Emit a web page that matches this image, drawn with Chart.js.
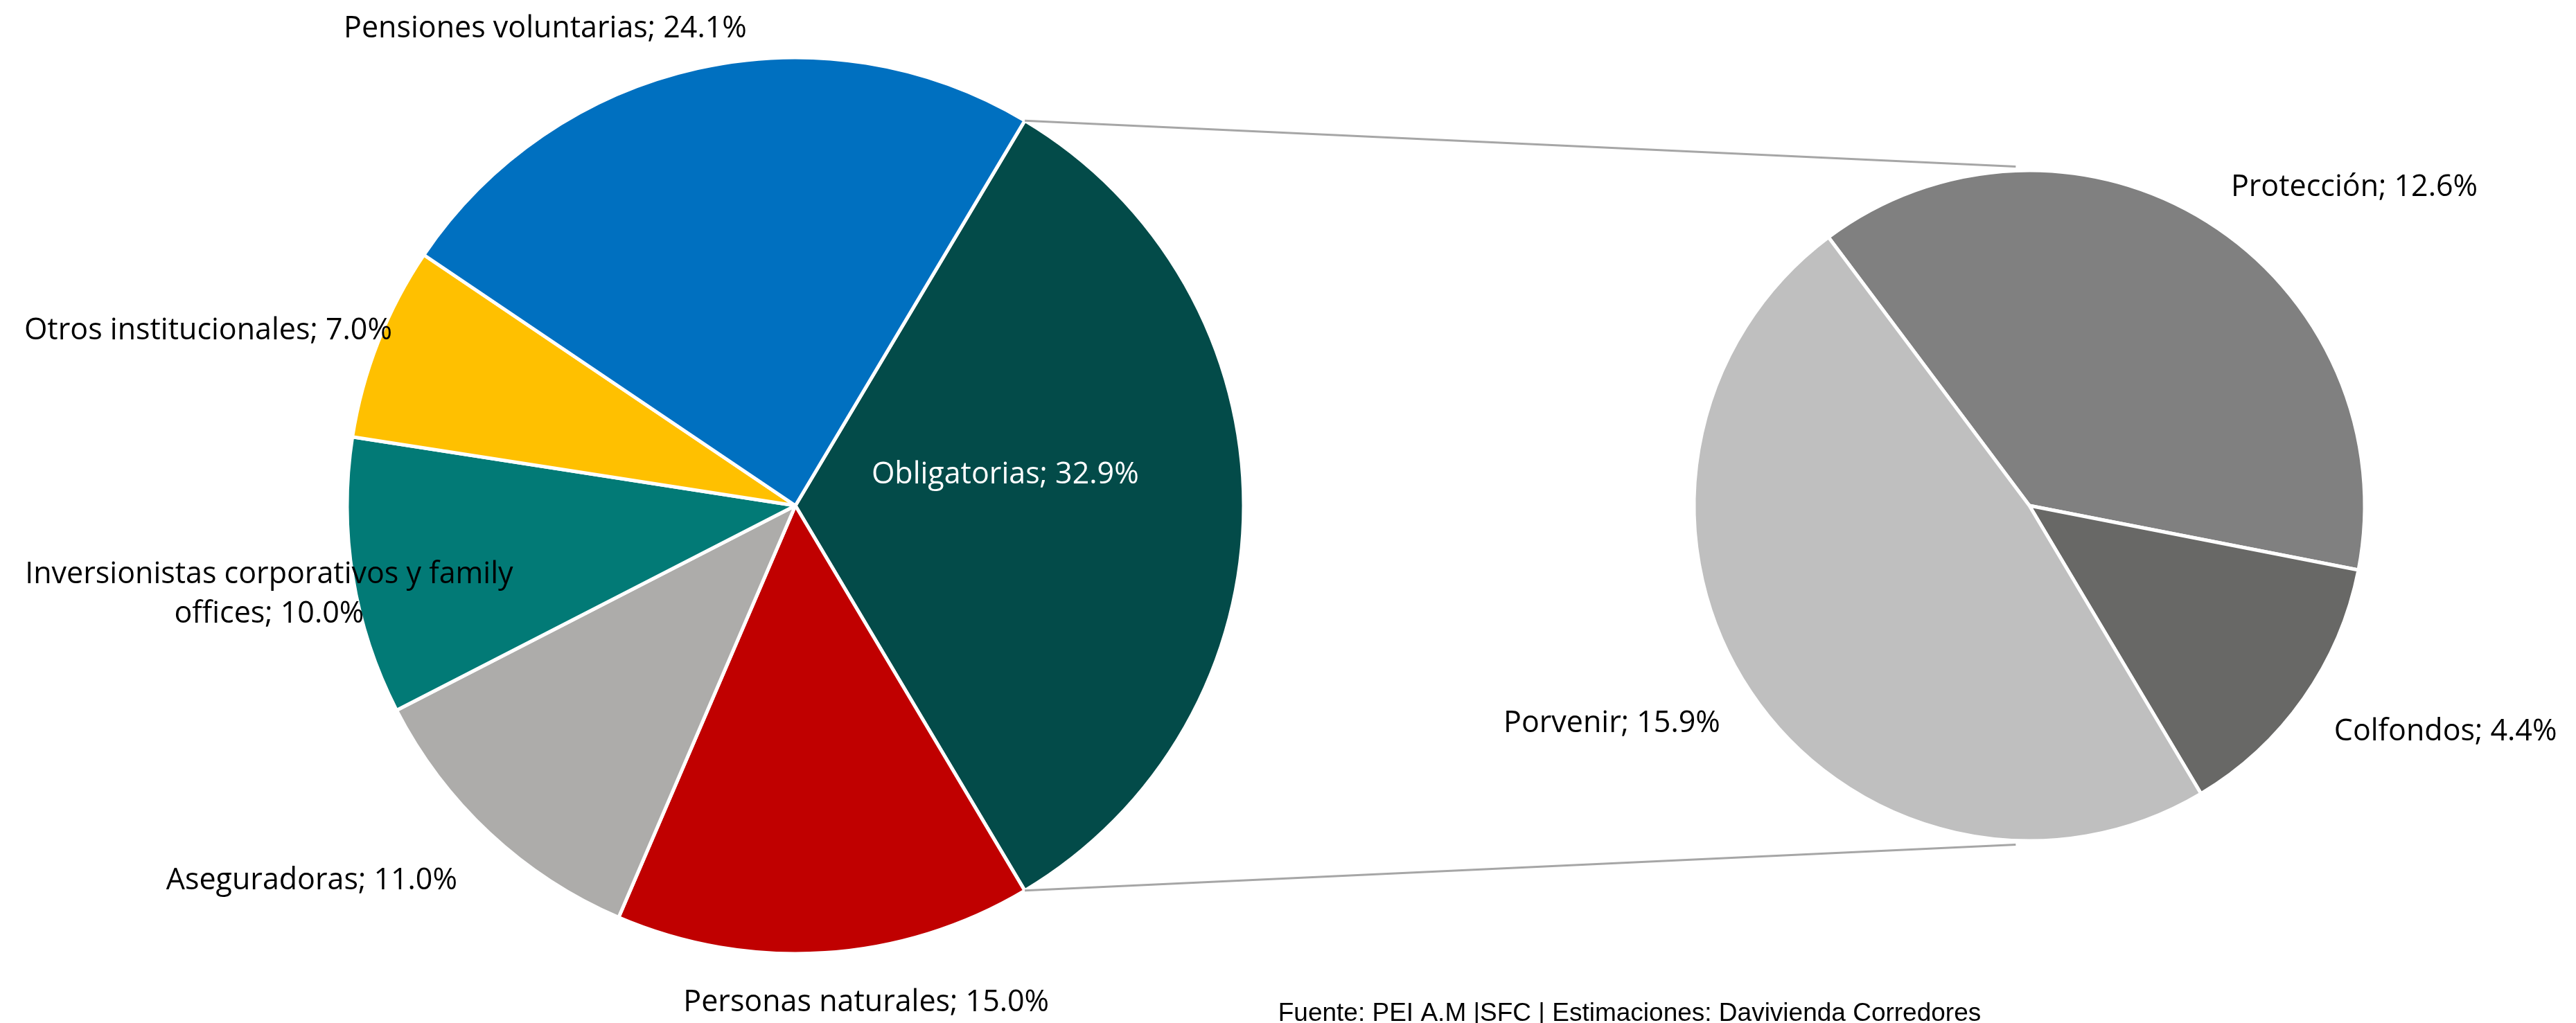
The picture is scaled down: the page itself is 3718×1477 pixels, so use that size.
<!DOCTYPE html>
<html>
<head>
<meta charset="utf-8">
<title>Pie de pie - inversionistas</title>
<script src="https://cdn.jsdelivr.net/npm/chart.js@4.4.0/dist/chart.umd.min.js"></script>
<style>
    html, body { margin: 0; padding: 0; background: #ffffff; }
    #wrap { position: relative; width: 3718px; height: 1477px; overflow: hidden; }
    #wrap canvas { position: absolute; left: 0; top: 0; }
</style>
</head>
<body>
<div id="wrap">
    <canvas id="main-pie" width="3718" height="1477"></canvas>
    <canvas id="sub-pie" width="3718" height="1477"></canvas>
</div>
<script>
// Data - main pie (share of holdings, %)
const mainCategories = ['Obligatorias', 'Personas naturales', 'Aseguradoras', 'Inversionistas corporativos y family offices', 'Otros institucionales', 'Pensiones voluntarias'];
const mainValues = [32.9, 15.0, 11.0, 10.0, 7.0, 24.1];

// Data - secondary pie (breakdown of Obligatorias, %)
const subCategories = ['Protección', 'Colfondos', 'Porvenir'];
const subValues = [12.6, 4.4, 15.9];

const sourceNote = 'Fuente: PEI A.M |SFC | Estimaciones: Davivienda Corredores';

// Styles
const mainColors = ['#034B49', '#C00000', '#ADACAA', '#027A76', '#FFC000', '#0070C0'];
const subColors = ['#808080', '#686866', '#BFBFBF'];
const mainTextColors = ['#FFFFFF', '#000000', '#000000', '#000000', '#000000', '#000000'];
const subTextColors = ['#000000', '#000000', '#000000'];

// Label anchors, in units of the pie radius, relative to the pie centre
const mainLabelPos = [[0.468, -0.073], [0.158, 1.105], [-1.079, 0.833], [-1.174, 0.193], [-1.310, -0.395], [-0.558, -1.068]];
const subLabelPos = [[0.969, -0.956], [1.241, 0.668], [-1.245, 0.643]];

const LABEL_SIZE = 43;
const LABEL_FONT = LABEL_SIZE + 'px "Open Sans", "Noto Sans", sans-serif';
const LINE_GAP = 57;
const WRAP_WIDTH = 760;

function wrapText(ctx, text, maxWidth) {
    let words = text.split(' ');
    let lines = [];
    let cur = '';
    words.forEach(w => {
        let test = cur ? cur + ' ' + w : w;
        if (cur && ctx.measureText(test).width > maxWidth) {
            lines.push(cur);
            cur = w;
        } else {
            cur = test;
        }
    });
    if (cur) lines.push(cur);
    return lines;
}

// Plugin - category; value% labels placed round each pie
const sliceLabels = {
    id: 'sliceLabels',
    afterDatasetsDraw(chart, args, opts) {
        const ctx = chart.ctx;
        const meta = chart.getDatasetMeta(0);
        const values = chart.data.datasets[0].data;
        ctx.save();
        ctx.font = LABEL_FONT;
        ctx.textAlign = 'center';
        ctx.textBaseline = 'alphabetic';
        meta.data.forEach((arc, i) => {
            const p = arc.getProps(['x', 'y', 'outerRadius'], true);
            const cx = p.x + opts.positions[i][0] * p.outerRadius;
            const cy = p.y + opts.positions[i][1] * p.outerRadius;
            const text = chart.data.labels[i] + '; ' + values[i].toFixed(1) + '%';
            const lines = wrapText(ctx, text, WRAP_WIDTH);
            ctx.fillStyle = opts.colors[i];
            lines.forEach((ln, k) => {
                let ly = cy + (k - (lines.length - 1) / 2) * LINE_GAP + 0.357 * LABEL_SIZE;
                ctx.fillText(ln, cx, ly);
            });
        });
        ctx.restore();
    }
};

// Plugin - connector lines from the Obligatorias slice to the secondary pie, plus source note
const pieConnectors = {
    id: 'pieConnectors',
    afterDraw(chart) {
        if (!mainChart) return;
        const ctx = chart.ctx;
        const arc = mainChart.getDatasetMeta(0).data[0];
        const a = arc.getProps(['x', 'y', 'startAngle', 'endAngle', 'outerRadius'], true);
        const sub = chart.getDatasetMeta(0).data[0].getProps(['x', 'y', 'outerRadius'], true);
        const tip = 92.3 * Math.PI / 180;
        const R2 = sub.outerRadius + 6;
        const pairs = [
            [a.startAngle, -tip],
            [a.endAngle, tip]
        ];
        ctx.save();
        ctx.strokeStyle = '#A6A6A6';
        ctx.lineWidth = 3;
        pairs.forEach(([angMain, angSub]) => {
            ctx.beginPath();
            ctx.moveTo(a.x + a.outerRadius * Math.cos(angMain), a.y + a.outerRadius * Math.sin(angMain));
            ctx.lineTo(sub.x + R2 * Math.cos(angSub), sub.y + R2 * Math.sin(angSub));
            ctx.stroke();
        });
        ctx.fillStyle = '#000000';
        ctx.font = '37px "Liberation Sans", Arial, sans-serif';
        ctx.textAlign = 'center';
        ctx.textBaseline = 'alphabetic';
        ctx.fillText(sourceNote, 2352, 1474);
        ctx.restore();
    }
};

const baseOptions = {
    responsive: false,
    animation: false,
    events: [],
    plugins: {
        legend: { display: false },
        tooltip: { enabled: false }
    }
};

const mainTotal = mainValues.reduce((s, v) => s + v, 0);

let mainChart = null;
mainChart = new Chart(document.getElementById('main-pie').getContext('2d'), {
    type: 'pie',
    data: {
        labels: mainCategories,
        datasets: [{
            data: mainValues,
            backgroundColor: mainColors,
            borderColor: '#FFFFFF',
            borderWidth: 5
        }]
    },
    options: {
        ...baseOptions,
        radius: 647,
        // centre the first slice on the 3 o'clock direction
        rotation: 90 - (mainValues[0] / mainTotal) * 180,
        layout: { padding: { left: 0, right: 1422, top: 0, bottom: 17 } },
        plugins: {
            ...baseOptions.plugins,
            sliceLabels: { positions: mainLabelPos, colors: mainTextColors }
        }
    },
    plugins: [sliceLabels]
});

let subChart = new Chart(document.getElementById('sub-pie').getContext('2d'), {
    type: 'pie',
    data: {
        labels: subCategories,
        datasets: [{
            data: subValues,
            backgroundColor: subColors,
            borderColor: '#FFFFFF',
            borderWidth: 5
        }]
    },
    options: {
        ...baseOptions,
        radius: 484,
        rotation: -36.8,
        layout: { padding: { left: 2140, right: 0, top: 0, bottom: 17 } },
        plugins: {
            ...baseOptions.plugins,
            sliceLabels: { positions: subLabelPos, colors: subTextColors }
        }
    },
    plugins: [sliceLabels, pieConnectors]
});
</script>
</body>
</html>
